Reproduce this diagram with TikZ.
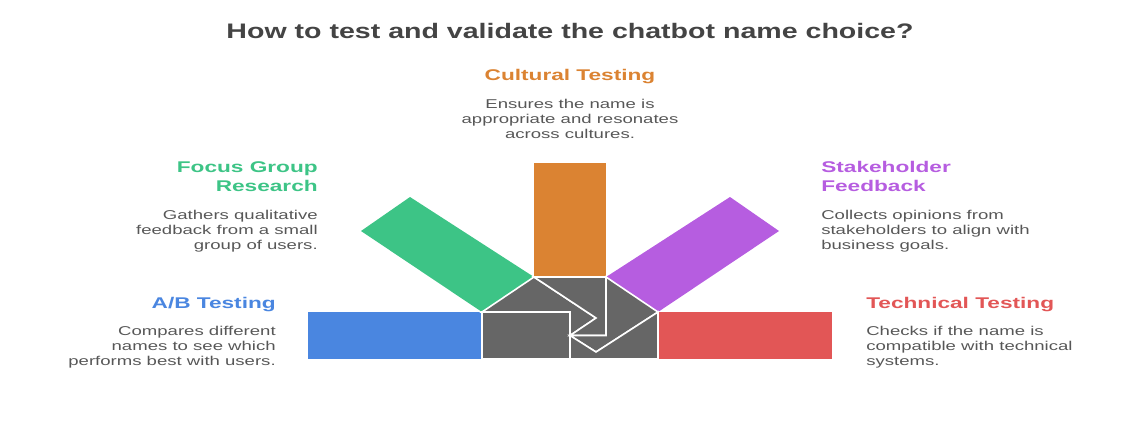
\documentclass[tikz,border=0pt]{standalone}
\usepackage{fontspec}
\setmainfont{Liberation Sans}
\definecolor{cblue}{HTML}{4A86E0}
\definecolor{cgreen}{HTML}{3DC486}
\definecolor{corange}{HTML}{DB8332}
\definecolor{cpurple}{HTML}{B65DE0}
\definecolor{cred}{HTML}{E25656}
\definecolor{cgray}{HTML}{666666}
\definecolor{ctitle}{HTML}{444444}
\definecolor{cdesc}{HTML}{575757}
\tikzset{
  piece/.style={fill=cgray, draw=white, line width=1.6pt, line join=miter},
  ttl/.style={inner sep=0pt, xscale=1.36, text=ctitle, font=\fontsize{21}{25}\selectfont\bfseries},
  head/.style={inner sep=0pt, xscale=1.46, font=\fontsize{15.5}{19}\selectfont\bfseries},
  desc/.style={inner sep=0pt, xscale=1.45, text=cdesc, font=\fontsize{12.8}{14.8}\selectfont}
}
\begin{document}
\begin{tikzpicture}[x=1pt, y=-1pt]
\useasboundingbox (0,0) rectangle (1140,440);
% bars
\fill[cblue]   (308,312) rectangle (482,359);
\fill[cred]    (658,312) rectangle (832,359);
\fill[corange] (534,163) rectangle (606,277);
\fill[cgreen]  (410,197) -- (361,231) -- (482,312) -- (534,277) -- cycle;
\fill[cpurple] (730,197) -- (779,231) -- (658,312) -- (606,277) -- cycle;
% central pinwheel
\coordinate (P) at (570,335.5);
\draw[piece] (482,312) -- (570,312) -- (570,359) -- (482,359) -- cycle;
\draw[piece] (482,312) -- (534,277) -- (596,318) -- (P) -- (570,312) -- cycle;
\draw[piece] (534,277) -- (606,277) -- (606,335.5) -- (P) -- (596,318) -- cycle;
\draw[piece] (606,277) -- (658,312) -- (596,352) -- (P) -- (606,335.5) -- cycle;
\draw[piece] (P) -- (596,352) -- (658,312) -- (658,359) -- (570,359) -- cycle;
% texts
\node[ttl, anchor=north] (title) at (570,23) {How to test and validate the chatbot name choice?};
\node[head, anchor=north, text=corange] (cult) at (570,69) {Cultural Testing};
\node[desc, anchor=north, align=center] (cultd) at (570,99.5) {Ensures the name is\\appropriate and resonates\\across cultures.};
\node[head, anchor=north east, align=right, text=cgreen] (focus) at (318,161.5) {Focus Group\\Research};
\node[desc, anchor=north east, align=right] (focusd) at (318,210.5) {Gathers qualitative\\feedback from a small\\group of users.};
\node[head, anchor=north east, align=right, text=cblue] (ab) at (276,297.5) {A/B Testing};
\node[desc, anchor=north east, align=right] (abd) at (276,326.5) {Compares different\\names to see which\\performs best with users.};
\node[head, anchor=north west, align=left, text=cpurple] (stake) at (821,161.5) {Stakeholder\\Feedback};
\node[desc, anchor=north west, align=left] (staked) at (821,210.5) {Collects opinions from\\stakeholders to align with\\business goals.};
\node[head, anchor=north west, align=left, text=cred] (tech) at (866,297.5) {Technical Testing};
\node[desc, anchor=north west, align=left] (techd) at (866,326.5) {Checks if the name is\\compatible with technical\\systems.};
\end{tikzpicture}
\end{document}
